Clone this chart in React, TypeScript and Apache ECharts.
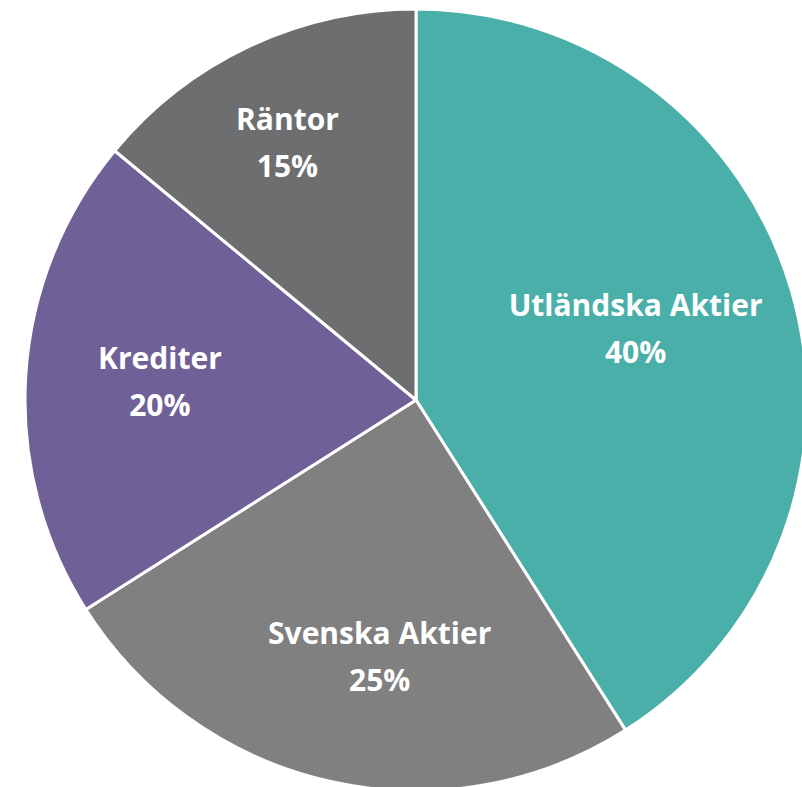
import React, { useEffect, useRef } from "react";
import * as echarts from "echarts";

const categories = ["Utländska Aktier", "Svenska Aktier", "Krediter", "Räntor"];
const values = [41, 25, 20, 14];
const labelTexts = ["40%", "25%", "20%", "15%"];
const colors = ["#4BAFA9", "#808080", "#6F6198", "#6D6E70"];
const labelOffsets = [
  [29, -17],
  [7, 62],
  [-58, -7],
  [-44, -78],
];

export default function App() {
  const ref = useRef<HTMLDivElement>(null);
  useEffect(() => {
    if (!ref.current) return;
    const chart = echarts.init(ref.current, undefined, { renderer: "svg" });
    chart.setOption({
      animation: false,
      series: [
        {
          type: "pie",
          center: [416, 400],
          radius: 391,
          startAngle: 90,
          clockwise: true,
          data: categories.map((name, i) => ({
            name,
            value: values[i],
            itemStyle: { color: colors[i] },
          })),
          itemStyle: { borderColor: "#ffffff", borderWidth: 3 },
          label: {
            show: true,
            position: "inside",
            formatter: (p: any) => p.name + "\n" + labelTexts[p.dataIndex],
            color: "#ffffff",
            fontFamily: "Open Sans",
            fontWeight: "bold",
            fontSize: 30,
            lineHeight: 47,
            align: "center",
          },
          labelLine: { show: false },
          labelLayout: (p: any) => ({
            dx: labelOffsets[p.dataIndex][0],
            dy: labelOffsets[p.dataIndex][1],
          }),
          emphasis: { disabled: true },
        },
      ],
    });
    return () => chart.dispose();
  }, []);
  return (
    <div
      ref={ref}
      style={{ position: "absolute", left: 0, top: 0, width: 802, height: 787 }}
    />
  );
}
